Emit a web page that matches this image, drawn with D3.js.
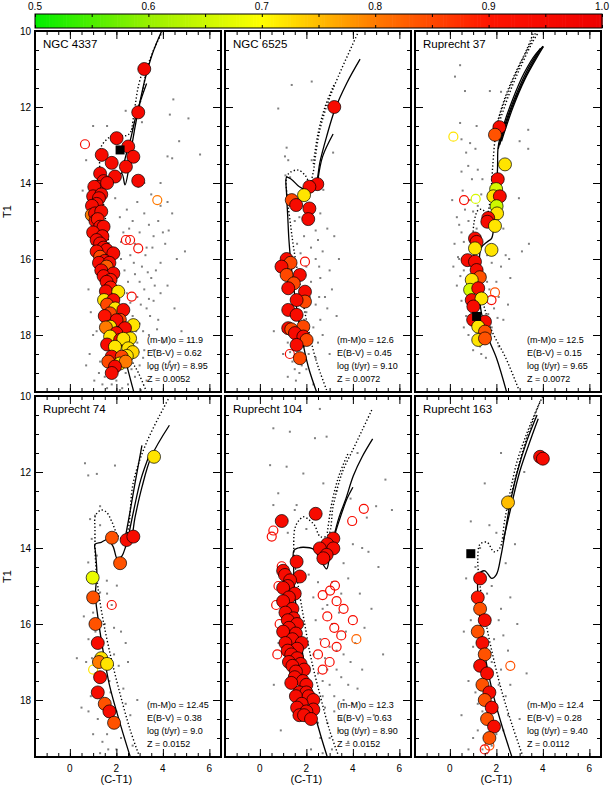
<!DOCTYPE html>
<html>
<head>
<meta charset="utf-8">
<script src="https://cdn.jsdelivr.net/npm/d3@7"></script>
<style>
  body { margin: 0; background: #fff; }
  text { font-family: "Liberation Sans", Arial, Helvetica, sans-serif; fill: #000; }
</style>
</head>
<body>
<svg id="chart" width="612" height="792"></svg>
<script>
// ---- labels ----
var clusterNames = ["NGC 4337", "NGC 6525", "Ruprecht 37", "Ruprecht 74", "Ruprecht 104", "Ruprecht 163"];
var clusterParams = [
  ["(m-M)o = 11.9", "E(B-V) = 0.62", "log (t/yr) = 8.95", "Z = 0.0052"],
  ["(m-M)o = 12.6", "E(B-V) = 0.45", "log (t/yr) = 9.10", "Z = 0.0072"],
  ["(m-M)o = 12.5", "E(B-V) = 0.15", "log (t/yr) = 9.65", "Z = 0.0072"],
  ["(m-M)o = 12.45", "E(B-V) = 0.38", "log (t/yr) = 9.0", "Z = 0.0152"],
  ["(m-M)o = 12.3", "E(B-V) = 0.63", "log (t/yr) = 8.90", "Z = 0.0152"],
  ["(m-M)o = 12.4", "E(B-V) = 0.28", "log (t/yr) = 9.40", "Z = 0.0112"]
];
var xTickLabels = [0, 2, 4, 6];
var yTickLabels = [10, 12, 14, 16, 18];
var cbTickLabels = [0.5, 0.6, 0.7, 0.8, 0.9, 1.0];

// ---- field stars [C-T1, T1] ----
var field1 = [[2.4,12.1],[4.3,12.2],[4.45,11.8],[1.0,12.5],[4.2,13.3],[4.4,13.35],[5.6,13.25],[4.7,12.9],[0.7,13.4],[0.55,14.2],[3.2,14.0],[3.9,14.0],[4.2,14.5],[2.45,14.7],[2.9,14.5],[3.2,14.8],[3.8,15.0],[2.7,15.0],[3.4,15.1],[4.4,14.8],[3.0,15.3],[3.6,15.4],[2.3,15.3],[4.1,15.6],[3.3,15.7],[2.6,15.9],[3.9,16.1],[2.2,16.0],[3.1,16.2],[2.8,16.4],[3.5,16.5],[2.5,16.6],[3.2,16.8],[4.2,16.7],[2.1,16.9],[2.9,17.0],[3.6,17.1],[2.4,17.2],[3.3,17.3],[0.8,16.8],[0.9,17.4],[2.0,17.5],[2.7,17.5],[3.0,17.7],[3.8,17.6],[2.3,17.8],[3.4,18.0],[2.6,18.0],[1.0,18.0],[2.9,18.2],[3.2,18.4],[2.2,18.5],[2.7,18.6],[1.3,18.7],[3.0,18.8],[1.7,18.9],[2.4,19.0],[1.5,19.1],[2.0,19.2],[1.8,19.3],[3.5,18.9],[3.9,16.9],[4.5,17.3],[1.1,16.2],[0.95,15.6],[2.55,15.2],[2.15,14.9],[3.05,17.2],[2.75,16.1],[3.25,15.9],[2.35,16.3],[2.05,17.0],[1.85,18.1],[1.25,19.0],[2.85,17.9],[3.45,17.5],[3.7,16.3],[2.65,18.9],[2.25,19.4],[1.6,19.4],[3.15,18.6],[4.0,18.2],[0.85,18.5],[1.05,19.2],[3.55,15.7],[4.6,16.0],
  [1.95,14.4],[3.5,14.3],[4.0,15.3],[2.8,15.6],[3.65,16.7],[3.0,16.6],[2.45,16.9],[2.2,17.4],[3.15,17.9],[2.55,17.7],[3.6,18.4],[2.35,18.3],[2.05,18.8],[2.8,19.1],[3.3,19.2],[1.4,19.3],[1.95,19.0],[2.5,19.3],[4.3,18.7],[4.8,17.9],[3.9,14.6],[2.95,14.1],[4.95,15.8],[5.1,12.3],[1.6,12.5],[3.1,12.4],[2.0,15.9],[3.35,16.35],[2.6,17.15],[3.75,17.85],[1.15,17.9],[0.7,18.8],[2.15,19.45],[3.05,19.45],[1.9,19.5],[2.45,18.15],[2.95,18.45],[3.4,17.05],[2.2,15.55],[4.25,15.25]];
var field2 = [[2.23,11.33],[1.37,11.42],[0.79,12.04],[1.15,13.07],[1.08,13.3],[1.22,13.4],[2.23,13.4],[3.15,13.2],[2.73,14.18],[1.1,13.8],[1.3,13.85],[1.7,14.9],[2.6,14.8],[2.9,15.2],[3.2,15.4],[2.5,15.5],[1.6,15.6],[2.2,15.7],[2.7,15.8],[1.9,15.4],[2.4,16.0],[3.0,16.3],[2.6,16.5],[2.2,16.6],[3.1,16.8],[2.8,17.0],[2.4,17.2],[2.9,17.3],[3.3,17.5],[2.0,17.4],[2.6,17.6],[1.0,17.9],[2.3,17.8],[2.7,18.0],[1.2,18.2],[1.6,18.4],[2.1,18.5],[1.4,18.7],[1.8,18.8],[1.5,18.9],[2.4,18.6],[1.3,18.45],[1.7,19.0],[3.4,16.0],[2.0,16.2],[0.6,17.9],[1.9,18.3],
  [1.5,15.0],[2.0,15.0],[2.4,15.25],[1.75,15.85],[2.55,16.2],[1.75,16.9],[2.15,17.0],[2.55,17.0],[1.9,17.6],[2.5,18.2],[2.0,18.9],[1.55,19.2],[1.2,19.1],[2.3,19.3],[3.0,18.5],[1.0,18.5]];
var field3 = [[0.44,10.9],[0.22,11.2],[1.72,11.58],[0.65,11.58],[2.2,11.6],[1.15,12.5],[0.44,12.42],[0.5,12.85],[0.87,12.95],[3.37,12.6],[3.0,12.9],[3.37,13.1],[0.7,13.2],[1.1,13.1],[0.79,13.55],[1.2,13.65],[0.5,13.7],[0.1,14.45],[0.95,13.9],[1.4,13.9],[2.97,14.4],[0.65,14.7],[1.0,14.75],[1.2,14.6],[0.3,14.9],[0.8,15.0],[1.5,15.1],[0.5,15.3],[1.3,15.4],[2.3,15.2],[0.2,15.6],[0.9,15.7],[1.6,15.9],[0.4,16.0],[2.2,16.2],[0.6,16.3],[1.5,16.4],[2.6,16.5],[0.3,16.7],[1.7,16.8],[2.1,17.0],[0.5,17.1],[1.9,17.3],[0.7,17.5],[2.3,17.6],[1.8,17.8],[0.8,18.0],[1.3,18.3],[1.0,18.4],[2.4,15.9],[3.4,15.6],[1.9,14.1],[0.35,15.95],[1.15,15.2],[2.5,17.2],[0.6,17.8],[1.6,18.2],[2.0,16.6],[0.9,16.6],[1.1,17.0],
  [0.55,14.2],[1.35,14.3],[0.85,14.45],[0.4,15.1],[1.0,15.45],[0.6,15.55],[1.8,16.1],[0.75,16.05],[1.25,16.1],[0.45,16.45],[1.6,16.6],[0.65,16.85],[1.5,17.15],[0.85,17.3],[1.65,17.45],[2.05,17.55],[0.95,17.7],[1.45,17.95],[1.75,18.1],[1.1,18.2],[1.35,18.5],[1.55,18.6],[2.1,18.3],[2.55,16.0],[3.1,15.8],[0.15,16.2]];
var field4 = [[0.65,11.77],[0.79,12.09],[1.94,11.83],[1.16,12.05],[1.3,12.9],[1.08,13.15],[0.87,13.24],[1.3,13.4],[0.94,13.76],[1.16,14.2],[0.79,14.38],[1.59,14.86],[2.02,14.99],[1.3,15.17],[0.9,15.3],[1.8,15.5],[0.6,15.8],[1.5,16.0],[2.2,16.2],[0.8,16.4],[1.3,16.6],[1.9,16.8],[0.7,17.0],[2.5,17.0],[1.1,17.3],[1.7,17.5],[2.3,17.7],[0.9,17.9],[1.5,18.1],[2.0,18.3],[1.2,18.5],[2.6,18.4],[1.8,18.7],[1.0,18.9],[1.4,19.1],[2.2,19.0],[0.5,18.2],[2.9,18.0],[1.65,19.3],[2.4,16.5],[0.3,16.9],
  [1.0,15.7],[1.6,15.2],[1.9,16.1],[1.1,16.2],[2.1,17.1],[1.4,17.9],[2.4,18.1],[1.6,18.9],[0.8,18.3],[2.0,19.3],[1.3,19.4],[2.7,19.2],[0.95,16.9],[1.75,17.8]];
var field5 = [[0.58,10.85],[1.29,10.94],[2.58,10.34],[2.37,11.11],[2.87,11.07],[0.44,11.82],[1.15,11.86],[1.87,12.04],[2.73,12.3],[0.79,12.56],[0.58,12.87],[1.58,12.87],[3.9,12.7],[4.4,14.0],[4.67,14.1],[5.68,13.0],[5.1,14.5],[4.0,13.9],[3.6,14.4],[1.2,13.6],[2.0,13.5],[3.8,14.8],[4.3,15.2],[2.9,15.5],[3.4,15.7],[4.8,15.6],[3.1,16.0],[3.7,16.2],[2.6,16.4],[4.1,16.5],[3.3,16.7],[2.8,16.9],[3.9,17.0],[2.5,17.3],[3.5,17.4],[4.4,17.2],[3.0,17.6],[2.7,17.9],[3.6,18.0],[2.4,18.2],[3.2,18.3],[4.0,18.1],[2.9,18.6],[3.4,18.8],[2.6,19.0],[0.8,16.5],[0.6,17.6],[1.0,15.4],[5.3,16.8],[4.9,18.4],[3.8,19.1],[2.2,19.3],[3.1,19.3],[0.9,18.8],[4.6,13.2],[5.4,12.2],
  [2.1,14.7],[2.5,14.9],[2.3,15.3],[2.7,15.6],[3.1,14.9],[3.5,15.2],[2.4,15.9],[3.0,16.6],[3.6,16.8],[2.3,16.8],[2.9,17.2],[3.3,17.2],[2.7,17.5],[3.8,17.6],[3.2,17.9],[2.8,18.2],[3.5,18.5],[2.5,18.6],[3.0,19.0],[2.7,19.4],[4.2,17.7],[4.5,16.1],[1.5,13.0],[3.3,12.5],[4.2,11.5],[5.0,12.9]];
var field6 = [[2.2,11.5],[1.5,12.3],[3.2,12.0],[0.9,13.3],[2.0,13.6],[1.3,14.0],[2.4,14.4],[0.7,14.8],[1.8,15.0],[2.6,15.3],[1.1,15.6],[2.1,15.9],[0.6,16.2],[1.9,16.4],[2.5,16.7],[1.3,16.9],[2.2,17.2],[0.8,17.5],[1.7,17.7],[2.4,17.9],[1.2,18.1],[2.0,18.3],[1.5,18.6],[2.3,18.8],[1.0,19.0],[1.8,19.2],[1.4,19.3],[3.0,18.5],[2.9,16.0],[0.5,18.4],
  [1.1,14.5],[1.6,15.2],[2.2,15.6],[0.9,15.9],[1.7,16.0],[2.3,16.3],[1.0,16.6],[1.8,17.0],[2.6,17.6],[1.1,17.8],[2.1,17.6],[1.4,18.3],[2.5,18.4],[1.2,18.8],[2.0,18.9],[1.6,19.4],[3.3,17.3],[0.8,19.3],[2.8,13.9],[1.7,13.4]];

// ---- members [C-T1, T1, P] (filled) ----
var memb1 = [[3.2,11.0,.97],[2.94,12.14,.96],[2.01,12.82,.96],[2.51,13.04,.95],[1.37,13.26,.95],[2.73,13.31,.95],[1.80,13.47,.95],[2.41,13.57,.95],[1.30,13.75,.96],[1.94,13.83,.95],[2.94,13.94,.96],[1.45,13.95,.95],[1.2,14.1,.94],[1.6,14.0,.95],[1.05,14.1,.95],[1.0,14.35,.95],[1.35,14.3,.95],[1.25,14.4,.95],[1.15,14.55,.95],[0.95,14.6,.95],[0.94,14.84,.8],[1.08,14.8,.95],[1.35,14.75,.94],[1.1,15.0,.95],[1.2,14.95,.9],[1.3,15.15,.95],[1.45,15.15,.95],[1.0,15.3,.93],[1.4,15.4,.95],[1.15,15.5,.95],[1.3,15.59,.95],[1.45,15.7,.95],[1.58,15.76,.95],[1.15,15.8,.92],[1.3,15.94,.85],[1.87,15.85,.95],[1.5,16.05,.94],[1.25,16.1,.95],[1.7,16.1,.95],[1.58,16.2,.83],[1.35,16.3,.95],[1.87,16.38,.95],[1.45,16.45,.95],[1.75,16.55,.9],[1.58,16.6,.95],[1.75,16.75,.9],[1.55,16.85,.95],[2.08,16.86,.72],[1.47,17.08,.72],[1.87,17.08,.95],[1.6,17.2,.85],[1.95,17.3,.72],[2.30,17.34,.95],[1.73,17.43,.85],[1.5,17.5,.92],[2.15,17.6,.85],[2.01,17.61,.95],[2.73,17.74,.72],[1.73,17.78,.72],[1.55,17.8,.8],[2.37,17.82,.95],[2.0,17.95,.95],[1.73,18.04,.72],[2.16,18.13,.95],[2.59,18.09,.72],[2.3,18.1,.72],[1.6,18.25,.95],[1.94,18.31,.72],[2.51,18.35,.72],[2.7,18.45,.73],[2.45,18.55,.72],[1.80,18.57,.95],[2.23,18.57,.85],[1.65,18.7,.85],[2.15,18.75,.72],[2.4,18.7,.8],[1.94,18.83,.96],[1.8,19.0,.95]];
var memb2 = [[3.2,12.0,.95],[2.47,14.03,.96],[2.13,14.1,.95],[1.90,14.32,.72],[1.37,14.45,.85],[1.56,14.58,.95],[2.13,14.67,.95],[2.08,14.95,.96],[1.15,16.0,.95],[1.32,16.1,.85],[0.93,16.2,.95],[1.15,16.42,.85],[1.72,16.42,.95],[1.46,16.64,.85],[1.22,16.77,.95],[1.94,16.86,.95],[1.94,17.12,.85],[1.58,17.08,.95],[1.22,17.34,.95],[1.58,17.47,.95],[1.87,17.78,.85],[1.22,17.82,.95],[1.35,17.85,.85],[1.51,17.95,.95],[1.87,18.04,.95],[2.01,18.13,.85],[1.58,18.26,.95],[1.72,18.61,.85]];
var memb3 = [[2.13,12.53,.95],[1.94,12.73,.84],[2.37,13.51,.72],[2.06,13.9,.95],[1.99,14.16,.66],[1.87,14.35,.72],[2.15,14.35,.95],[2.01,14.61,.65],[2.03,14.8,.72],[1.65,14.92,.95],[1.61,15.02,.95],[1.94,15.13,.72],[1.08,15.46,.95],[1.15,15.55,.93],[1.08,15.72,.72],[1.79,15.76,.72],[0.76,16.03,.95],[1.08,16.07,.95],[1.15,16.29,.95],[1.29,16.48,.84],[0.94,16.55,.72],[0.87,16.81,.66],[1.22,16.77,.95],[0.94,17.08,.95],[1.36,17.04,.72],[1.01,17.25,.95],[1.0,17.6,.95],[1.51,17.65,.95],[1.22,17.78,.72],[1.51,17.91,.84],[1.22,18.13,.72],[1.51,18.09,.84]];
var memb4 = [[3.62,11.6,.72],[1.81,13.73,.84],[2.44,13.79,.95],[2.73,13.7,.95],[2.16,14.4,.84],[0.98,14.78,.68],[1.0,15.3,.84],[1.1,16.0,.84],[1.2,16.5,.95],[1.35,16.9,.72],[1.25,17.0,.8],[1.6,17.05,.72],[1.3,17.4,.95],[1.2,17.8,.95],[1.5,18.1,.84],[1.7,18.3,.95],[1.9,18.6,.84]];
var memb5 = [[0.94,13.29,.95],[2.40,13.1,.95],[3.16,13.75,.95],[2.9,13.9,.95],[2.58,14.01,.95],[3.16,14.01,.95],[2.87,14.18,.95],[2.73,14.27,.95],[1.58,14.36,.95],[1.0,14.6,.95],[1.08,14.71,.95],[1.72,14.75,.95],[1.3,14.85,.95],[1.2,15.0,.95],[1.0,15.05,.95],[1.5,15.2,.95],[1.25,15.3,.95],[1.0,15.4,.95],[1.4,15.6,.95],[1.1,15.7,.95],[1.45,15.85,.95],[1.2,15.9,.95],[1.6,16.0,.95],[1.25,16.1,.95],[1.0,16.2,.95],[1.55,16.25,.95],[1.4,16.4,.95],[1.1,16.5,.95],[1.8,16.5,.95],[1.6,16.65,.95],[1.2,16.7,.95],[1.35,16.8,.95],[1.6,16.9,.95],[1.25,17.0,.95],[1.75,17.05,.95],[1.4,17.1,.95],[1.9,17.2,.95],[1.55,17.25,.95],[1.5,17.4,.95],[1.85,17.5,.95],[1.35,17.55,.95],[2.0,17.6,.95],[1.7,17.8,.95],[2.0,17.8,.95],[1.55,17.9,.95],[2.1,17.9,.95],[2.3,18.0,.95],[1.8,18.1,.95],[1.6,18.2,.95],[2.3,18.25,.95],[2.0,18.3,.95],[1.7,18.4,.95],[1.9,18.4,.95],[2.2,18.5,.95]];
var memb6 = [[3.88,11.6,.95],[4.0,11.65,.95],[2.5,12.8,.75],[1.3,14.8,.95],[1.2,15.3,.9],[1.3,15.6,.84],[1.5,15.9,.95],[1.2,16.2,.84],[1.4,16.5,.95],[1.5,16.8,.84],[1.3,17.1,.95],[1.6,17.3,.95],[1.4,17.6,.84],[1.7,17.8,.95],[1.5,18.0,.84],[1.8,18.2,.95],[1.6,18.5,.84],[1.9,18.7,.95],[1.7,19.0,.84]];

// ---- open circles [C-T1, T1, P] ----
var open1 = [[0.65,12.98,.95],[3.76,14.45,.8],[2.41,15.5,.95],[2.59,15.5,.95],[2.94,15.72,.95],[2.66,16.99,.95]];
var open2 = [[1.94,16.07,.95],[1.29,18.5,.95]];
var open3 = [[0.15,12.78,.72],[0.61,14.45,.95],[1.11,14.42,.66],[1.94,16.88,.84],[1.79,17.08,.95]];
var open4 = [[1.8,15.5,.95],[1.0,17.2,.72]];
var open5 = [[0.58,13.54,.95],[0.51,13.7,.95],[4.47,12.97,.95],[3.97,13.29,.95],[0.94,14.48,.95],[0.8,15.0,.95],[0.7,15.5,.95],[0.85,16.0,.95],[0.75,16.8,.95],[3.23,14.99,.95],[3.02,15.12,.95],[2.7,15.24,.95],[3.3,15.4,.95],[3.6,15.6,.95],[2.9,15.8,.95],[3.2,16.1,.95],[3.5,16.3,.95],[2.8,16.5,.95],[3.3,16.6,.95],[4.0,15.9,.95],[4.15,16.4,.82],[2.5,16.8,.95],[2.7,17.2,.95],[3.0,17.0,.95]];
var open6 = [[2.6,17.1,.84],[1.7,19.2,.84],[1.5,19.3,.95]];

// ---- black squares ----
var sq1 = [[2.16,13.13]];
var sq2 = [];
var sq3 = [[1.15,17.51]];
var sq4 = [];
var sq5 = [];
var sq6 = [[0.9,14.15]];

// ---- isochrones (solid / dotted) ----
var solid1 = [
  [[2.75,19.5],[2.45,18.8],[2.15,18.0],[1.9,17.2],[1.72,16.4],[1.56,15.6],[1.4,14.95],[1.3,14.5],[1.28,14.2],[1.5,13.98],[1.9,13.9],[2.23,13.75],[2.37,14.05],[2.51,13.7],[2.62,13.2],[2.78,12.6],[2.97,12.0],[3.22,11.3],[3.55,10.6],[3.95,10.0]],
  [[2.23,13.75],[2.4,13.3],[2.6,12.87],[2.9,12.1],[3.3,11.38]]
];
var dot1 = [
  [[3.3,19.5],[2.95,19.0],[2.66,18.66],[2.35,17.9],[2.0,16.9],[1.75,15.9],[1.5,14.8],[1.32,13.9],[1.28,13.3],[1.35,13.04],[1.7,12.8],[2.1,12.75],[2.45,12.75],[2.62,12.65],[2.8,12.34],[3.09,11.73],[3.3,11.03],[3.6,10.5],[3.95,10.05]],
  [[2.66,12.6],[2.8,12.0],[2.94,11.47],[3.2,10.9]]
];
var solid2 = [
  [[2.44,19.5],[2.08,18.83],[1.75,17.9],[1.51,17.0],[1.35,16.2],[1.25,15.5],[1.2,14.9],[1.15,14.3],[1.15,13.85],[1.35,13.9],[1.7,14.1],[2.1,14.2],[2.3,14.15],[2.44,13.98],[2.58,13.46],[2.87,12.78],[3.22,12.08],[3.73,11.38],[4.31,10.74]],
  [[2.5,13.9],[2.7,13.3],[3.15,12.71]]
];
var dot2 = [
  [[2.87,19.45],[2.6,19.0],[2.37,18.57],[2.0,17.6],[1.7,16.6],[1.45,15.7],[1.3,15.0],[1.18,14.4],[1.15,13.85],[1.3,13.72],[1.65,13.66],[1.95,13.8],[2.15,14.0],[2.3,13.7],[2.37,13.39],[2.58,12.6],[2.94,11.86],[3.37,11.2],[4.24,10.02]],
  [[2.3,13.5],[2.5,12.7],[2.8,12.0],[3.2,11.4]]
];
var solid3 = [
  [[2.44,19.5],[2.0,18.6],[1.6,18.0],[1.35,17.4],[1.25,16.8],[1.25,16.2],[1.35,15.7],[1.6,15.55],[1.8,15.45],[1.9,15.0],[2.0,14.3],[2.05,13.6],[2.08,13.04],[2.3,12.5],[2.7,11.8],[3.2,11.1],[3.7,10.6],[4.02,10.41]],
  [[2.08,13.1],[2.4,12.4],[2.9,11.6],[3.4,10.95],[3.9,10.45]],
  [[2.14,13.0],[2.58,12.15],[3.08,11.42],[3.58,10.82],[4.0,10.4]],
  [[2.22,12.9],[2.72,12.0],[3.22,11.28],[3.72,10.72],[4.02,10.41]]
];
var dot3 = [
  [[2.94,19.4],[2.4,18.6],[1.79,17.87],[1.45,17.2],[1.15,16.4],[1.0,15.6],[1.05,15.0],[1.22,14.71],[1.4,14.7],[1.6,14.8],[1.75,14.3],[1.85,13.5],[1.95,12.8],[2.08,12.36],[2.5,11.6],[3.0,10.9],[3.4,10.4],[3.73,10.0]],
  [[2.0,12.5],[2.4,11.7],[2.9,11.0],[3.3,10.5],[3.62,10.0]],
  [[2.18,12.3],[2.65,11.5],[3.15,10.8],[3.55,10.3],[3.84,10.0]]
];
var solid4 = [
  [[2.6,19.5],[2.2,18.7],[1.7,17.6],[1.4,16.6],[1.2,15.8],[1.1,15.25],[1.16,14.64],[1.1,14.1],[1.08,13.9],[1.35,13.85],[1.6,13.78],[1.85,13.95],[2.05,14.3],[2.25,14.2],[2.45,13.9],[2.62,13.8],[2.8,13.2],[3.1,12.4],[3.5,11.6],[4.28,10.77]],
  [[2.4,13.67],[2.6,13.0],[2.8,12.3],[3.1,11.3]],
  [[2.5,13.75],[2.75,13.0],[3.05,12.2],[3.45,11.5]]
];
var dot4 = [
  [[3.0,19.5],[2.6,18.8],[2.1,17.7],[1.7,16.7],[1.4,15.8],[1.2,15.0],[1.1,14.3],[1.08,13.5],[1.1,13.15],[1.35,13.0],[1.58,13.06],[1.8,13.3],[2.1,13.7],[2.35,13.75],[2.51,13.5],[2.73,12.27],[3.3,11.22],[4.28,10.03]]
];
var solid5 = [
  [[2.9,19.5],[2.6,18.9],[2.2,18.0],[1.9,17.0],[1.65,16.0],[1.5,15.2],[1.45,14.5],[1.46,14.07],[1.65,14.0],[1.87,13.98],[2.3,14.03],[2.6,14.3],[2.87,14.55],[3.0,14.2],[3.16,13.75],[3.4,13.2],[3.7,12.7],[4.02,12.1],[4.4,11.6],[4.85,11.13]],
  [[3.1,13.9],[3.4,13.3],[3.75,12.7],[4.0,12.4]]
];
var dot5 = [
  [[3.4,19.5],[3.0,18.8],[2.6,17.9],[2.2,16.9],[1.9,15.9],[1.65,15.0],[1.5,14.4],[1.46,14.07],[1.5,13.5],[1.65,13.3],[1.87,13.18],[2.1,13.25],[2.35,13.4],[2.6,13.7],[2.94,13.66],[3.16,12.87],[3.55,12.0],[4.02,11.39],[4.4,10.9],[4.81,10.37]],
  [[2.9,13.6],[3.1,12.8],[3.4,12.1],[3.8,11.5]]
];
var solid6 = [
  [[2.67,19.5],[2.2,18.6],[1.8,17.7],[1.5,16.8],[1.3,15.9],[1.2,15.2],[1.25,14.7],[1.5,14.6],[1.8,14.8],[2.0,14.7],[2.2,14.2],[2.4,13.5],[2.6,12.8],[2.9,12.0],[3.3,11.2],[3.75,10.5]],
  [[2.3,13.8],[2.6,13.0],[3.0,12.0],[3.5,11.1],[3.8,10.6]]
];
var dot6 = [
  [[3.15,19.5],[2.7,18.7],[2.2,17.7],[1.8,16.7],[1.5,15.8],[1.3,15.0],[1.2,14.3],[1.3,13.9],[1.6,13.85],[1.9,14.1],[2.15,14.0],[2.35,13.3],[2.6,12.5],[2.9,11.7],[3.3,11.0],[3.7,10.4],[4.0,10.0]],
  [[2.5,13.0],[2.8,12.2],[3.2,11.3],[3.6,10.6],[3.9,10.1]]
];

var panels = [
  { field: field1, memb: memb1, open: open1, sq: sq1, solid: solid1, dot: dot1 },
  { field: field2, memb: memb2, open: open2, sq: sq2, solid: solid2, dot: dot2 },
  { field: field3, memb: memb3, open: open3, sq: sq3, solid: solid3, dot: dot3 },
  { field: field4, memb: memb4, open: open4, sq: sq4, solid: solid4, dot: dot4 },
  { field: field5, memb: memb5, open: open5, sq: sq5, solid: solid5, dot: dot5 },
  { field: field6, memb: memb6, open: open6, sq: sq6, solid: solid6, dot: dot6 }
];

// ---- layout ----
var W = 186, H = 361;
var lefts = [35, 225, 415], tops = [31, 396];
var svg = d3.select("#chart");

var color = d3.scaleLinear()
  .domain([0.5, 0.6, 0.7, 0.8, 0.9, 1.0])
  .range(["#00ee00", "#99f000", "#ffff00", "#ff7a00", "#ff1500", "#ee0000"])
  .clamp(true);

// colorbar
var cb = d3.scaleLinear().domain([0.5, 1.0]).range([35, 602]);
var cbTop = 14, cbH = 14;
var steps = d3.range(0.5, 1.0, 0.0025);
svg.append("g").selectAll("rect").data(steps).enter().append("rect")
  .attr("x", d => cb(d)).attr("y", cbTop)
  .attr("width", cb(0.5025) - cb(0.5) + 0.6).attr("height", cbH)
  .attr("fill", d => color(d + 0.00125));
svg.append("rect").attr("x", 35).attr("y", cbTop).attr("width", 567).attr("height", cbH)
  .attr("fill", "none").attr("stroke", "#000").attr("stroke-width", 1);
svg.append("g").attr("transform", `translate(0,${cbTop + cbH})`)
  .call(d3.axisTop(cb).tickValues(d3.range(0.5, 1.001, 0.05)).tickSize(3).tickFormat(""))
  .call(g => g.select(".domain").remove());
svg.append("g").attr("transform", `translate(0,${cbTop})`)
  .call(d3.axisBottom(cb).tickValues(d3.range(0.5, 1.001, 0.05)).tickSize(3).tickFormat(""))
  .call(g => g.select(".domain").remove());
svg.selectAll(".cblab").data(cbTickLabels).enter().append("text")
  .attr("x", d => cb(d)).attr("y", 10).attr("text-anchor", "middle")
  .attr("font-size", 10).text(d => d.toFixed(1));

var minorX = d3.range(-1.5, 6.51, 0.5), minorY = d3.range(10, 19.51, 0.5);

panels.forEach(function (p, i) {
  var col = i % 3, row = Math.floor(i / 3);
  var x = d3.scaleLinear().domain([-1.5, 6.5]).range([0, W]);
  var y = d3.scaleLinear().domain([10, 19.5]).range([0, H]);
  var g = svg.append("g").attr("transform", `translate(${lefts[col]},${tops[row]})`);

  g.append("clipPath").attr("id", "clip" + i)
    .append("rect").attr("width", W).attr("height", H);
  var plot = g.append("g").attr("clip-path", `url(#clip${i})`);

  // field stars
  plot.selectAll(".fs").data(p.field).enter().append("rect")
    .attr("x", d => x(d[0]) - 1).attr("y", d => y(d[1]) - 1)
    .attr("width", 2).attr("height", 2).attr("fill", "#808080");

  // isochrones
  var line = d3.line().x(d => x(d[0])).y(d => y(d[1])).curve(d3.curveCatmullRom);
  plot.selectAll(".iso").data(p.solid).enter().append("path")
    .attr("d", line).attr("fill", "none").attr("stroke", "#000").attr("stroke-width", 1.3);
  plot.selectAll(".isod").data(p.dot).enter().append("path")
    .attr("d", line).attr("fill", "none").attr("stroke", "#000")
    .attr("stroke-width", 1.4).attr("stroke-dasharray", "1.3,2.2");

  // open circles
  plot.selectAll(".oc").data(p.open).enter().append("circle")
    .attr("cx", d => x(d[0])).attr("cy", d => y(d[1])).attr("r", 4.5)
    .attr("fill", "none").attr("stroke", d => color(d[2])).attr("stroke-width", 1.2);

  // members
  plot.selectAll(".mc").data(p.memb).enter().append("circle")
    .attr("cx", d => x(d[0])).attr("cy", d => y(d[1])).attr("r", 6.5)
    .attr("fill", d => color(d[2])).attr("stroke", "#000").attr("stroke-width", 0.7);

  // squares
  plot.selectAll(".sq").data(p.sq).enter().append("rect")
    .attr("x", d => x(d[0]) - 4.5).attr("y", d => y(d[1]) - 4.5)
    .attr("width", 9).attr("height", 9).attr("fill", "#000");

  // ticks on all sides, pointing inward
  function ticks(axis, tr, vals, len) {
    g.append("g").attr("transform", tr)
      .call(axis.tickValues(vals).tickSize(-len).tickFormat(""))
      .call(s => s.select(".domain").remove())
      .call(s => s.selectAll("line").attr("stroke-width", 1));
  }
  ticks(d3.axisBottom(x), `translate(0,${H})`, minorX, 4);
  ticks(d3.axisBottom(x), `translate(0,${H})`, xTickLabels, 8);
  ticks(d3.axisTop(x), "translate(0,0)", minorX, 4);
  ticks(d3.axisTop(x), "translate(0,0)", xTickLabels, 8);
  ticks(d3.axisLeft(y), "translate(0,0)", minorY, 4);
  ticks(d3.axisLeft(y), "translate(0,0)", yTickLabels, 8);
  ticks(d3.axisRight(y), `translate(${W},0)`, minorY, 4);
  ticks(d3.axisRight(y), `translate(${W},0)`, yTickLabels, 8);

  g.append("rect").attr("width", W).attr("height", H)
    .attr("fill", "none").attr("stroke", "#000").attr("stroke-width", 2);

  // titles and parameters
  g.append("text").attr("x", 8).attr("y", 17).attr("font-size", 11.5).text(clusterNames[i]);
  clusterParams[i].forEach(function (t, k) {
    g.append("text").attr("x", 112).attr("y", 312 + k * 13).attr("font-size", 9).text(t);
  });

  if (col === 0) {
    g.selectAll(".yl").data(yTickLabels).enter().append("text")
      .attr("x", -4).attr("y", d => y(d) + 3.5).attr("text-anchor", "end")
      .attr("font-size", 10).text(d => d);
    g.append("text").attr("transform", `translate(-24,${H / 2}) rotate(-90)`)
      .attr("text-anchor", "middle").attr("font-size", 11).text("T1");
  }
  if (row === 1) {
    g.selectAll(".xl").data(xTickLabels).enter().append("text")
      .attr("x", d => x(d)).attr("y", H + 15).attr("text-anchor", "middle")
      .attr("font-size", 10).text(d => d);
    g.append("text").attr("x", x(2)).attr("y", H + 26).attr("text-anchor", "middle")
      .attr("font-size", 11).text("(C-T1)");
  }
});
</script>
</body>
</html>
